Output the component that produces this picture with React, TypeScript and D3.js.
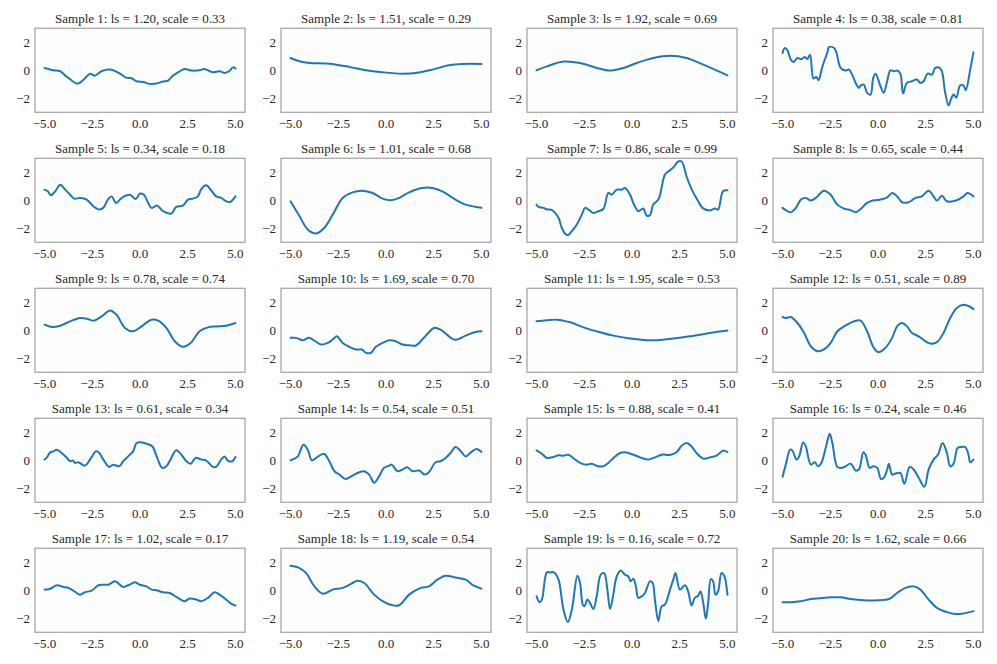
import React from 'react';
import * as d3 from 'd3';

type Pt = [number, number];

// lengthscale and scale per sample, as printed in the titles
const LS = ['1.20', '1.51', '1.92', '0.38', '0.34', '1.01', '0.86', '0.65', '0.78', '1.69',
  '1.95', '0.51', '0.61', '0.54', '0.88', '0.24', '1.02', '1.19', '0.16', '1.62'];
const SCALE = ['0.33', '0.29', '0.69', '0.81', '0.18', '0.68', '0.99', '0.44', '0.74', '0.70',
  '0.53', '0.89', '0.34', '0.51', '0.41', '0.46', '0.17', '0.54', '0.72', '0.66'];

const X_TICKS = [-5, -2.5, 0, 2.5, 5];
const Y_TICKS = [-2, 0, 2];

// traced curves, [x, y]
const s1: Pt[] = [[-5, 0.17], [-4.53, 0], [-4.2, -0.05], [-3.9, -0.4], [-3.7, -0.6], [-3.26, -0.95], [-2.9, -0.6], [-2.62, -0.24], [-2.36, -0.38], [-2.0, -0.05],
  [-1.57, 0.05], [-1.05, -0.24], [-0.74, -0.52], [-0.44, -0.57], [-0.18, -0.78], [0.17, -0.83], [0.51, -0.97], [0.86, -0.95], [1.21, -0.8], [1.47, -0.73],
  [1.73, -0.38], [2.08, -0.07], [2.34, 0.1], [2.69, -0.02], [3.12, 0], [3.38, 0.1], [3.82, -0.14], [4.17, -0.07], [4.43, -0.19], [4.69, -0.05], [4.86, 0.21], [5, 0.14]];
const s2: Pt[] = [[-5, 0.88], [-4.53, 0.64], [-4.0, 0.52], [-2.97, 0.47], [-1.92, 0.24], [-1.05, 0], [-0.18, -0.14], [0.86, -0.24], [1.56, -0.19],
  [2.43, 0.05], [3.3, 0.36], [3.99, 0.45], [5, 0.45]];
const s3: Pt[] = [[-5, 0], [-4.46, 0.28], [-3.59, 0.62], [-2.72, 0.52], [-1.85, 0.17], [-1.15, -0.02], [-0.45, 0.17], [0.24, 0.52], [1.11, 0.88],
  [1.99, 1.04], [2.86, 0.88], [3.73, 0.4], [5, -0.36]];
const s4: Pt[] = [[-5, 1.23], [-4.88, 1.59], [-4.74, 1.42], [-4.57, 0.76], [-4.43, 0.59], [-4.22, 0.88], [-4.01, 0.8], [-3.83, 0.95], [-3.7, 0.8], [-3.56, 1.11],
  [-3.38, -0.59], [-3.23, -0.47], [-3.12, -0.71], [-2.91, 0.28], [-2.65, 1.28], [-2.57, 1.66], [-2.3, 1.59], [-2.17, 1.23], [-1.96, 0.17], [-1.7, -0.02],
  [-1.52, 0.05], [-1.17, -0.9], [-1.0, -1.25], [-0.91, -1.09], [-0.74, -1.02], [-0.57, -1.61], [-0.39, -1.73], [-0.25, -0.54], [-0.13, -0.24], [0.13, -1.14],
  [0.3, -1.61], [0.48, -0.78], [0.65, 0], [0.83, -0.07], [1.0, -0.02], [1.17, -0.24], [1.31, -1.66], [1.51, -0.9], [1.78, -0.78], [2.04, -0.66],
  [2.22, -0.9], [2.39, -0.78], [2.6, -0.24], [2.83, -0.31], [3.0, 0.17], [3.23, 0.17], [3.35, -0.07], [3.52, -1.61], [3.7, -2.51], [3.82, -2.08],
  [3.96, -1.73], [4.1, -1.96], [4.3, -1.09], [4.48, -1.09], [4.6, -1.42], [4.83, 0.05], [5, 1.28]];
const s5: Pt[] = [[-5, 0.76], [-4.83, 0.64], [-4.67, 0.36], [-4.44, 0.64], [-4.18, 1.11], [-3.92, 0.76], [-3.66, 0.4], [-3.45, 0.12], [-3.14, 0.17], [-2.79, 0.05],
  [-2.44, -0.43], [-2.13, -0.66], [-1.92, -0.54], [-1.71, 0], [-1.49, 0.28], [-1.26, -0.19], [-1.05, 0.05], [-0.84, 0.28], [-0.53, 0.4], [-0.22, 0.09],
  [-0.01, 0.47], [0.2, 0.4], [0.6, -0.54], [0.9, -0.38], [1.21, -0.78], [1.64, -0.95], [1.9, -0.47], [2.25, -0.38], [2.51, 0.05], [2.77, 0.12],
  [3.03, 0.28], [3.21, 0.8], [3.47, 1.07], [3.73, 0.71], [3.99, 0.28], [4.25, 0.17], [4.51, -0.07], [4.72, -0.12], [5, 0.28]];
const s6: Pt[] = [[-5, -0.07], [-4.53, -1.14], [-4.1, -2.08], [-3.66, -2.37], [-3.23, -1.96], [-2.79, -1.02], [-2.27, 0.17], [-1.75, 0.57], [-1.23, 0.69],
  [-0.7, 0.52], [-0.18, 0.12], [0.25, 0], [0.69, 0.17], [1.21, 0.57], [1.9, 0.88], [2.43, 0.88], [2.95, 0.64], [3.64, 0.05], [4.17, -0.31], [5, -0.54]];
const s7: Pt[] = [[-5, -0.31], [-4.9, -0.47], [-4.63, -0.54], [-4.46, -0.66], [-4.29, -0.66], [-4.11, -0.78], [-3.85, -1.25], [-3.68, -1.96], [-3.5, -2.39], [-3.36, -2.49],
  [-3.15, -2.2], [-2.89, -1.73], [-2.63, -1.02], [-2.46, -0.54], [-2.28, -0.66], [-2.02, -0.9], [-1.76, -0.78], [-1.5, -0.62], [-1.24, 0.52], [-1.06, 0.4],
  [-0.8, 0.76], [-0.54, 0.76], [-0.37, 0.88], [-0.1, 0.4], [0.07, -0.19], [0.33, -0.78], [0.59, -0.59], [0.77, -1.09], [0.94, -1.07], [1.11, -0.31],
  [1.38, 0.05], [1.72, 1.82], [1.9, 2.06], [2.16, 2.34], [2.42, 2.77], [2.6, 2.77], [2.86, 1.7], [3.12, 0.8], [3.47, -0.07], [3.69, -0.54],
  [4.08, -0.73], [4.34, -0.59], [4.51, -0.66], [4.77, 0.64], [5, 0.71]];
const s8: Pt[] = [[-5, -0.54], [-4.74, -0.78], [-4.57, -0.85], [-4.3, -0.54], [-4.04, 0.05], [-3.78, 0.17], [-3.52, -0.02], [-3.26, 0.17], [-2.83, 0.69], [-2.48, 0.4],
  [-2.13, -0.31], [-1.78, -0.59], [-1.43, -0.71], [-1.17, -0.85], [-0.91, -0.62], [-0.57, -0.19], [-0.22, 0], [0.13, 0.05], [0.48, 0.21], [0.74, 0.52],
  [0.97, 0.33], [1.26, -0.14], [1.61, -0.14], [1.96, 0.17], [2.3, 0.28], [2.65, 0.69], [2.91, 0.28], [3.09, -0.02], [3.35, 0.33], [3.61, -0.07],
  [4.13, 0], [4.48, 0.28], [4.69, 0.52], [5, 0.28]];
const s9: Pt[] = [[-5, 0.4], [-4.62, 0.24], [-4.18, 0.33], [-3.66, 0.64], [-3.14, 0.88], [-2.79, 0.83], [-2.44, 0.69], [-2.01, 0.99], [-1.57, 1.42], [-1.23, 1.11],
  [-0.79, 0.17], [-0.36, -0.07], [0.08, 0.28], [0.6, 0.76], [0.95, 0.69], [1.38, 0.17], [1.82, -0.78], [2.25, -1.18], [2.69, -0.85], [3.12, -0.07],
  [3.56, 0.21], [3.99, 0.28], [4.51, 0.33], [5, 0.52]];
const s10: Pt[] = [[-5, -0.54], [-4.7, -0.54], [-4.36, -0.71], [-4.04, -0.54], [-3.75, -0.73], [-3.4, -1.02], [-3.05, -0.9], [-2.79, -0.66], [-2.58, -0.43], [-2.27, -0.9],
  [-1.92, -1.18], [-1.57, -1.37], [-1.26, -1.37], [-1.05, -1.61], [-0.79, -1.61], [-0.53, -1.18], [-0.18, -0.9], [0.17, -0.71], [0.51, -0.78], [0.86, -1.02],
  [1.21, -1.07], [1.56, -1.09], [1.9, -0.66], [2.25, -0.14], [2.51, 0.17], [2.86, 0.05], [3.3, -0.43], [3.56, -0.66], [3.82, -0.62], [4.17, -0.38],
  [4.69, -0.12], [5, -0.07]];
const s11: Pt[] = [[-5, 0.64], [-4.46, 0.71], [-3.94, 0.76], [-3.24, 0.57], [-2.54, 0.21], [-1.85, -0.07], [-0.98, -0.38], [-0.1, -0.59], [0.77, -0.71],
  [1.29, -0.71], [2.16, -0.59], [3.03, -0.43], [4.08, -0.19], [5, -0.02]];
const s12: Pt[] = [[-5, 0.95], [-4.83, 0.88], [-4.57, 0.95], [-4.22, 0.52], [-3.87, -0.19], [-3.52, -1.14], [-3.17, -1.49], [-2.83, -1.37], [-2.48, -0.9], [-2.13, -0.07],
  [-1.78, 0.28], [-1.26, 0.64], [-0.91, 0.69], [-0.57, -0.07], [-0.22, -1.25], [0.04, -1.56], [0.39, -1.25], [0.74, -0.54], [1.0, 0.28], [1.26, 0.52],
  [1.52, 0.28], [1.78, -0.19], [2.13, -0.43], [2.48, -0.78], [2.74, -0.95], [3.09, -0.85], [3.43, -0.19], [3.78, 0.88], [4.13, 1.59], [4.48, 1.82],
  [4.79, 1.7], [5, 1.51]];
const s13: Pt[] = [[-5, 0.05], [-4.88, 0.21], [-4.7, 0.57], [-4.53, 0.64], [-4.36, 0.76], [-4.1, 0.52], [-3.83, 0.17], [-3.66, -0.07], [-3.52, -0.02], [-3.4, -0.19],
  [-3.23, -0.14], [-2.88, -0.38], [-2.62, 0.05], [-2.3, 0.64], [-2.13, 0.52], [-1.92, 0.05], [-1.61, -0.47], [-1.4, -0.31], [-1.09, -0.43], [-0.88, -0.07],
  [-0.62, 0.28], [-0.36, 0.64], [-0.18, 1.23], [0.08, 1.28], [0.34, 1.18], [0.65, 0.99], [0.9, 0.17], [1.16, -0.54], [1.38, -0.43], [1.64, 0.17],
  [1.9, 0.71], [2.17, 0.4], [2.43, -0.07], [2.65, -0.24], [2.91, 0.17], [3.21, 0.05], [3.47, -0.02], [3.82, -0.47], [3.99, -0.47], [4.25, 0.05],
  [4.43, 0.28], [4.6, -0.02], [4.83, -0.07], [5, 0.24]];
const s14: Pt[] = [[-5, 0], [-4.79, 0.12], [-4.62, 0.28], [-4.32, 1.11], [-4.1, 0.76], [-3.89, 0], [-3.66, 0.17], [-3.4, 0.4], [-3.23, 0.45], [-2.97, -0.07],
  [-2.7, -0.78], [-2.44, -1.02], [-2.13, -1.33], [-1.75, -1.09], [-1.4, -0.85], [-1.14, -0.78], [-0.88, -1.02], [-0.62, -1.61], [-0.36, -1.14], [-0.1, -0.54],
  [0.17, -0.38], [0.3, -0.31], [0.6, -0.78], [0.86, -0.66], [1.12, -0.5], [1.38, -0.78], [1.73, -0.73], [2.04, -1.02], [2.25, -0.85], [2.6, -0.14],
  [2.86, -0.07], [3.12, 0.17], [3.38, 0.52], [3.64, 0.95], [3.9, 0.69], [4.17, 0.28], [4.51, 0.64], [4.74, 0.8], [5, 0.59]];
const s15: Pt[] = [[-5, 0.71], [-4.72, 0.47], [-4.46, 0.17], [-4.11, 0.24], [-3.85, 0.36], [-3.59, 0.33], [-3.33, 0.4], [-2.98, 0.05], [-2.63, -0.24], [-2.37, -0.31],
  [-2.11, -0.24], [-1.76, -0.43], [-1.5, -0.43], [-1.24, -0.19], [-0.97, 0.17], [-0.63, 0.52], [-0.37, 0.57], [0.07, 0.4], [0.42, 0.21], [0.85, 0.05],
  [1.2, 0.21], [1.55, 0.4], [1.99, 0.38], [2.33, 0.57], [2.6, 1.04], [2.86, 1.23], [3.12, 0.99], [3.38, 0.52], [3.73, 0.12], [4.08, 0.21],
  [4.43, 0.33], [4.77, 0.69], [5, 0.59]];
const s16: Pt[] = [[-5, -1.18], [-4.83, -0.31], [-4.6, 0.76], [-4.48, 0.69], [-4.27, 0.05], [-4.13, 0.28], [-3.92, 1.28], [-3.78, 0.99], [-3.52, -0.31], [-3.31, -0.14],
  [-3.14, -0.43], [-2.97, -0.19], [-2.74, 0.88], [-2.53, 1.89], [-2.39, 1.23], [-2.13, -0.47], [-1.87, -0.54], [-1.7, -0.43], [-1.43, -0.24], [-1.17, -0.73],
  [-1.0, -0.66], [-0.77, 0.57], [-0.65, 0.4], [-0.44, -0.54], [-0.25, -0.43], [-0.04, -0.54], [0.15, -1.33], [0.3, -1.25], [0.48, -0.66], [0.57, -0.24],
  [0.74, -1.02], [0.91, -0.95], [1.17, -0.9], [1.38, -1.68], [1.66, -0.47], [1.87, -0.66], [2.13, -1.25], [2.43, -1.89], [2.65, -0.66], [2.91, 0.05],
  [3.14, 0.4], [3.38, 1.23], [3.61, 0.52], [3.78, -0.43], [3.96, -0.24], [4.17, 0.88], [4.39, 0.95], [4.57, 0.95], [4.74, 0.4], [4.83, -0.14], [5, 0.05]];
const s17: Pt[] = [[-5, 0.05], [-4.74, 0.09], [-4.36, 0.36], [-4.01, 0.24], [-3.75, 0.17], [-3.49, -0.02], [-3.14, -0.31], [-2.88, -0.14], [-2.53, -0.02], [-2.18, 0.36],
  [-1.92, 0.4], [-1.66, 0.4], [-1.31, 0.64], [-0.88, 0.24], [-0.62, 0.36], [-0.27, 0.57], [-0.01, 0.4], [0.34, 0.28], [0.6, 0.05], [0.86, 0],
  [1.21, -0.14], [1.56, -0.19], [1.9, -0.47], [2.34, -0.78], [2.6, -0.59], [2.95, -0.66], [3.21, -0.78], [3.56, -0.54], [3.9, -0.14], [4.17, -0.31],
  [4.51, -0.66], [4.77, -0.95], [5, -1.09]];
const s18: Pt[] = [[-5, 1.75], [-4.53, 1.59], [-4.18, 1.23], [-3.75, 0.28], [-3.31, -0.24], [-2.79, 0.05], [-2.27, 0.17], [-1.75, 0.52], [-1.49, 0.69], [-1.14, 0.52],
  [-0.62, -0.31], [-0.18, -0.78], [0.34, -1.07], [0.69, -1.07], [1.21, -0.31], [1.82, 0.17], [2.25, 0.28], [2.69, 0.76], [3.12, 1.04], [3.64, 0.92],
  [4.17, 0.76], [4.6, 0.33], [5, 0.12]];
const s19: Pt[] = [[-5, -0.43], [-4.84, -0.85], [-4.72, -0.66], [-4.46, 1.28], [-4.29, 1.28], [-4.08, 1.28], [-3.85, 0.76], [-3.59, -1.37], [-3.36, -2.27], [-3.15, -1.37],
  [-2.86, 1.04], [-2.72, 0.52], [-2.58, -1.02], [-2.49, -1.14], [-2.33, -0.66], [-2.2, -0.9], [-2.02, -1.33], [-1.85, -0.43], [-1.64, 1.11], [-1.46, 1.23],
  [-1.29, 0.05], [-1.15, -1.33], [-0.98, -0.31], [-0.8, 0.99], [-0.59, 1.42], [-0.37, 1.11], [-0.19, 0.99], [-0.07, 0.64], [0.07, 0.83], [0.2, 0.3],
  [0.33, -0.54], [0.51, -0.43], [0.68, -0.19], [0.94, 0.64], [1.08, 0.52], [1.2, -0.66], [1.38, -2.2], [1.55, -1.14], [1.72, -1.02], [1.99, 0.05],
  [2.16, 0.76], [2.28, 1.23], [2.51, 0.05], [2.77, 0.36], [2.94, -0.07], [3.12, -1.09], [3.29, -0.54], [3.47, -0.38], [3.59, -0.07], [3.73, -0.9],
  [3.87, -2.03], [3.99, -0.9], [4.13, 0.8], [4.25, 0.64], [4.37, -0.31], [4.51, -0.07], [4.69, 1.23], [4.83, 1.04], [5, -0.31]];
const s20: Pt[] = [[-5, -0.85], [-4.57, -0.85], [-4.04, -0.78], [-3.52, -0.62], [-3.0, -0.57], [-2.48, -0.5], [-1.96, -0.5], [-1.43, -0.62], [-0.74, -0.71],
  [-0.04, -0.71], [0.57, -0.62], [1.0, -0.19], [1.43, 0.17], [1.87, 0.28], [2.22, 0.05], [2.65, -0.66], [3.09, -1.25], [3.61, -1.56], [3.96, -1.68],
  [4.39, -1.68], [5, -1.49]];

const SAMPLES = [s1, s2, s3, s4, s5, s6, s7, s8, s9, s10, s11, s12, s13, s14, s15, s16, s17, s18, s19, s20];

const W = 997;
const H = 664;
const COLS = 4;
const PANEL_W = 210;
const PANEL_H = 84;
const LEFT0 = 35;
const TOP0 = 28.3;
const COL_STEP = 246;
const ROW_STEP = 130;

const FONT = '"Liberation Serif", "DejaVu Serif", serif';
const TEXT = '#262626';
const LINE = '#1f77b4';

const x = d3.scaleLinear().domain([-5.5, 5.5]).range([0, PANEL_W]);
const y = d3.scaleLinear().domain([-3, 3]).range([PANEL_H, 0]);
const line = d3.line<Pt>().x(d => x(d[0])).y(d => y(d[1])).curve(d3.curveCatmullRom.alpha(0.5));

const fmtX = (v: number) => d3.format('.1f')(v).replace('-', '\u2212');
const fmtY = (v: number) => String(v).replace('-', '\u2212');

const Panel: React.FC<{ idx: number }> = ({ idx }) => {
  const col = idx % COLS;
  const row = Math.floor(idx / COLS);
  const tx = LEFT0 + col * COL_STEP;
  const ty = TOP0 + row * ROW_STEP;
  return (
    <g transform={`translate(${tx},${ty})`}>
      <rect x={0} y={0} width={PANEL_W} height={PANEL_H} fill="#fdfdfd" />
      <clipPath id={`clip-${idx}`}>
        <rect x={0} y={0} width={PANEL_W} height={PANEL_H} />
      </clipPath>
      <path d={line(SAMPLES[idx]) || ''} fill="none" stroke={LINE} strokeWidth={2} strokeLinejoin="round"
        strokeLinecap="round" clipPath={`url(#clip-${idx})`} />
      <rect x={0} y={0} width={PANEL_W} height={PANEL_H} fill="none" stroke="#a8a8a8" strokeWidth={1.3} />
      <text x={PANEL_W / 2} y={-5} textAnchor="middle" fontSize={13} fill={TEXT}>
        {`Sample ${idx + 1}: ls = ${LS[idx]}, scale = ${SCALE[idx]}`}
      </text>
      {X_TICKS.map(t => (
        <text key={`x${t}`} x={x(t)} y={PANEL_H + 16} textAnchor="middle" fontSize={13} fill={TEXT}>{fmtX(t)}</text>
      ))}
      {Y_TICKS.map(t => (
        <text key={`y${t}`} x={-5} y={y(t)} dy="0.35em" textAnchor="end" fontSize={13} fill={TEXT}>{fmtY(t)}</text>
      ))}
    </g>
  );
};

export default function App() {
  return (
    <svg width={W} height={H} viewBox={`0 0 ${W} ${H}`}
      style={{ position: 'absolute', left: 0, top: 0, background: '#fff', fontFamily: FONT }}>
      {SAMPLES.map((_, i) => <Panel key={i} idx={i} />)}
    </svg>
  );
}
